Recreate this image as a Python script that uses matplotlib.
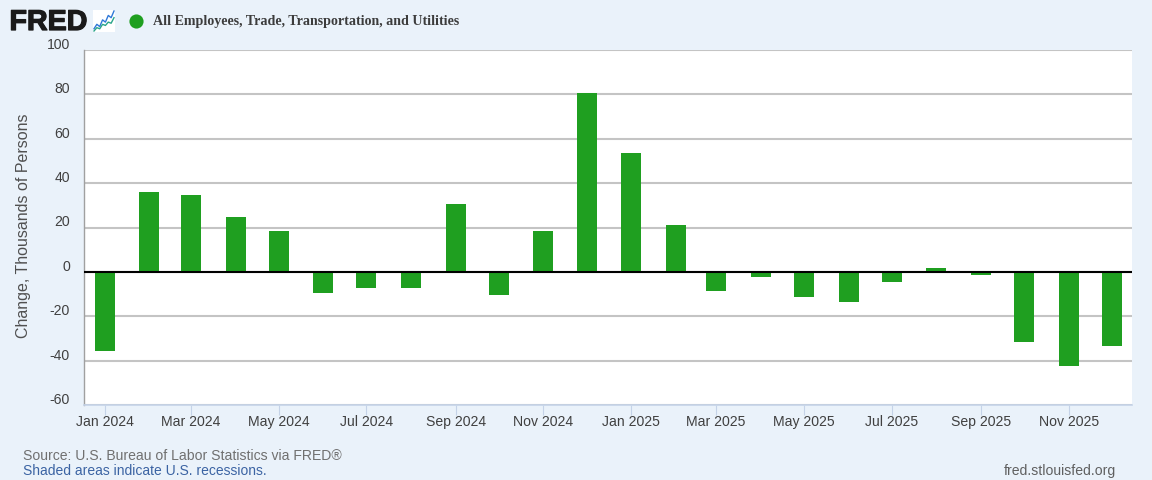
import numpy as np
import pandas as pd
import matplotlib
matplotlib.use("Agg")
import matplotlib.pyplot as plt
import matplotlib.dates as mdates
import matplotlib.patheffects as pe
from matplotlib.transforms import ScaledTranslation

months = pd.date_range("2024-01-01", "2025-12-01", freq="MS")
changes = [-35.5, 36, 34.5, 24.6, 18.5, -9.5, -7.4, -7.4, 30.5, -10.5, 18.5, 80.5,
           53.5, 21, -8.5, -2.4, -11.5, -13.5, -4.5, 1.7, -1.5, -31.5, -42.5, -33.5]
yticks = [-60, -40, -20, 0, 20, 40, 60, 80, 100]
ytick_labels = ["-60", "-40", "-20", "0", "20", "40", "60", "80", "100"]
title = "All Employees, Trade, Transportation, and Utilities"
ylabel = "Change, Thousands of Persons"
icon_a = [1, 3, 2, 5, 4, 7, 6, 9]
icon_b = [0, 1.5, 1, 3, 2.5, 4, 3.5, 6]

W, H = 1152, 480
BG = "#eaf2fa"
GREEN = "#1f9f20"
plt.rcParams["font.family"] = ["Liberation Sans", "DejaVu Sans"]
fig = plt.figure(figsize=(W / 100, H / 100), dpi=100, facecolor=BG)


def fx(px):
    return px / W


def fy(px):
    return 1 - px / H


ax = fig.add_axes([fx(84), fy(405), fx(1132 - 84), (405 - 50) / H], facecolor="white")
ax.bar(months, changes, width=13.9, color=GREEN, zorder=3)
ax.axhline(0, color="black", lw=1.5, zorder=4)

ax.set_xlim(months[0] - pd.Timedelta(days=14.3), months[-1] + pd.Timedelta(days=14))
ax.set_ylim(-60, 100)
ax.set_yticks(yticks, ytick_labels)
ax.yaxis.grid(True, color="#c4c4c4", lw=1.5, zorder=1)
ax.set_axisbelow(True)
ax.xaxis.set_major_locator(mdates.MonthLocator(bymonth=[1, 3, 5, 7, 9, 11]))
ax.xaxis.set_major_formatter(mdates.DateFormatter("%b %Y"))
ax.tick_params(axis="x", length=7.2, width=0.8, color="#c5d3e8", labelsize=10.1,
               labelcolor="#404040", pad=7.6)
ax.tick_params(axis="y", length=0, labelsize=10.1, labelcolor="#404040", pad=10.2)
for lab in ax.get_xticklabels():
    lab.set_va("baseline")
shift = ScaledTranslation(0, 6.5 / 100, fig.dpi_scale_trans)
for lab in ax.get_yticklabels():
    lab.set_transform(lab.get_transform() + shift)

for s in ("top", "right"):
    ax.spines[s].set_visible(False)
ax.spines["left"].set_color("#a0a0a0")
ax.spines["left"].set_linewidth(1)
ax.spines["bottom"].set_color("#c5d3e8")
ax.spines["bottom"].set_linewidth(1.2)

fig.text(fx(24), fy(226), ylabel, rotation=90, ha="center", va="center",
         fontsize=11.5, color="#505050")

# Header
logo = fig.text(fx(9.5), fy(22), "FRED", fontsize=20.6, fontweight="bold", color="#1a1a1a",
                ha="left", va="center", family=["Liberation Sans"])
logo.set_path_effects([pe.withStroke(linewidth=0.9, foreground="#1a1a1a")])
icon = fig.add_axes([fx(93), fy(32), fx(22), 22 / H], facecolor="white")
icon.plot(icon_a, color="#2f78d8", lw=1)
icon.plot(icon_b, color="#2aa58a", lw=1)
icon.set_xticks([])
icon.set_yticks([])
for s in icon.spines.values():
    s.set_visible(False)
fig.add_artist(plt.Line2D([fx(135.5)], [fy(20.5)], marker="o", ms=10.2, color=GREEN,
                          mew=0, transform=fig.transFigure))
fig.text(fx(153), fy(22), title, family=["Liberation Serif"], fontweight="bold",
         fontsize=10.06, color="#3c3c3c", ha="left", va="center")

# Footer
fig.text(fx(23), fy(456), "Source: U.S. Bureau of Labor Statistics via FRED®", fontsize=10.05,
         color="#707070", ha="left", va="center")
fig.text(fx(23), fy(471), "Shaded areas indicate U.S. recessions.", fontsize=10,
         color="#3b63a3", ha="left", va="center")
fig.text(fx(1116.5), fy(470.5), "fred.stlouisfed.org", fontsize=10.05,
         color="#606060", ha="right", va="center")

fig.savefig("out.png", dpi=100, facecolor=BG)
